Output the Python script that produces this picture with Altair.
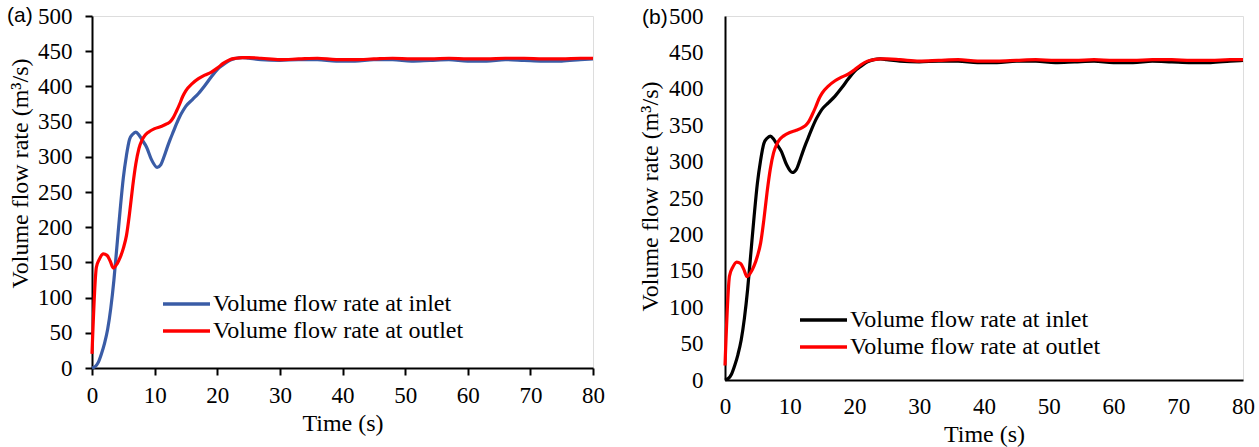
import altair as alt
import pandas as pd

# ---- data ----
t_inlet = [0, 0.5, 1, 1.5, 2, 2.5, 3, 3.5, 4, 4.5, 5, 5.5, 6, 6.5, 7, 7.5, 8, 8.7, 9.5, 10.4,
           11, 11.5, 12, 12.5, 13, 13.5, 14, 14.5, 15, 16, 17, 18, 19, 20, 21, 22, 23, 24, 25,
           27, 30, 33, 36, 39, 42, 45, 48, 51, 54, 57, 60, 63, 66, 69, 72, 75, 78, 80]
v_inlet = [0, 2, 8, 20, 35, 55, 85, 125, 175, 225, 270, 302, 325, 332, 335, 331, 324, 314, 296, 285,
           289, 300, 313, 325, 336, 347, 357, 365, 372, 381, 390, 401, 413, 424, 431, 437, 440, 441, 440,
           438, 437, 438, 438, 436, 436, 438, 438, 436, 437, 438, 436, 436, 438, 437, 436, 436, 438, 439]

t_outlet = [0, 0.7, 1.2, 1.8, 2.4, 2.9, 3.4, 4, 4.5, 5, 5.5, 6, 6.5, 7, 7.5, 8, 8.5, 9, 10,
            11, 12, 12.5, 13, 13.5, 14, 14.5, 15, 16, 17, 18, 19, 20, 21, 22, 23, 24, 25,
            27, 30, 33, 36, 39, 42, 45, 48, 51, 54, 57, 60, 63, 66, 69, 72, 75, 78, 80]
v_outlet = [20, 143, 155, 162, 160, 152, 142, 148, 157, 170, 188, 220, 258, 290, 312, 324, 331, 335, 340,
            343, 347, 350, 356, 365, 375, 386, 394, 404, 411, 416, 420, 426, 433, 438, 440, 441, 441,
            440, 438, 439, 440, 438, 438, 439, 440, 439, 439, 440, 439, 439, 440, 440, 439, 439, 440, 440]

series_names = ["Volume flow rate at inlet", "Volume flow rate at outlet"]
x_ticks = [0, 10, 20, 30, 40, 50, 60, 70, 80]
y_ticks = [0, 50, 100, 150, 200, 250, 300, 350, 400, 450, 500]

df_in = pd.DataFrame({"t": t_inlet, "v": v_inlet})
df_out = pd.DataFrame({"t": t_outlet, "v": v_outlet})

FONT = "Liberation Serif"
FS = 23   # tick labels
TFS = 24  # titles and legend


def panel(tag, inlet_color, w, h, ticks, tick_size, lab_pad_x, lab_pad_y, title_pad_x, title_pad_y,
          leg_x, leg_y, tag_x, tag_y, y_title_y):
    xax = alt.Axis(values=x_ticks, grid=False, ticks=ticks, tickSize=tick_size, tickWidth=2,
                   tickColor="black", domainColor="black", domainWidth=2,
                   labelFont=FONT, labelFontSize=FS, labelColor="black", labelPadding=lab_pad_x,
                   labelFlush=False, labelOverlap=False,
                   title="Time (s)", titleFont=FONT, titleFontSize=TFS, titleFontWeight="normal",
                   titleColor="black", titlePadding=title_pad_x)
    yax = alt.Axis(values=y_ticks, tickCount=11, grid=False, ticks=ticks, tickSize=tick_size, tickWidth=2,
                   tickColor="black", domainColor="black", domainWidth=2,
                   labelFont=FONT, labelFontSize=FS, labelColor="black", labelPadding=lab_pad_y,
                   labelFlush=False, labelOverlap=False,
                   title="Volume flow rate (m³/s)", titleFont=FONT, titleFontSize=TFS,
                   titleFontWeight="normal", titleColor="black", titlePadding=title_pad_y,
                   titleY=y_title_y, titleAlign="center")
    xs = alt.Scale(domain=[0, 80], nice=False)
    ys = alt.Scale(domain=[0, 500], nice=False)

    l_in = alt.Chart(df_in).mark_line(color=inlet_color, strokeWidth=3.2, interpolate="monotone").encode(
        x=alt.X("t:Q", scale=xs, axis=xax), y=alt.Y("v:Q", scale=ys, axis=yax))
    l_out = alt.Chart(df_out).mark_line(color="#ff0000", strokeWidth=3.2, interpolate="monotone").encode(
        x=alt.X("t:Q", scale=xs, axis=xax), y=alt.Y("v:Q", scale=ys, axis=yax))

    layers = [l_in, l_out]
    for i, (name, col) in enumerate(zip(series_names, [inlet_color, "#ff0000"])):
        d = pd.DataFrame({"label": [name]})
        yy = leg_y + i * 27
        layers.append(alt.Chart(d).mark_rule(color=col, strokeWidth=3.5).encode(
            x=alt.value(leg_x), x2=alt.value(leg_x + 47), y=alt.value(yy)))
        layers.append(alt.Chart(d).mark_text(align="left", baseline="middle", font=FONT,
                                             fontSize=TFS, color="black").encode(
            x=alt.value(leg_x + 50), y=alt.value(yy), text="label:N"))
    layers.append(alt.Chart(pd.DataFrame({"tag": [tag]})).mark_text(
        align="left", baseline="middle", font="Liberation Sans", fontSize=21, color="black").encode(
        x=alt.value(tag_x), y=alt.value(tag_y), text="tag:N"))
    return alt.layer(*layers).properties(width=w, height=h)


pa = panel("(a)", "#3a5ca6", 501, 352, True, 7, 9, 13, 4, 5, 71, 288, -85, 0, 157)
pb = panel("(b)", "#000000", 518, 364, False, 0, 15, 22, 4, 6, 75, 304, -83, 2, 180)

chart = alt.hconcat(pa, pb, spacing=132, bounds="flush").properties(
    autosize=alt.AutoSizeParams(type="none"),
    padding={"left": 92, "top": 16, "right": 1167, "bottom": 431},
).configure_view(stroke="black", strokeWidth=2).configure(background="white")

chart.save("out.html", embed_options={"renderer": "svg", "actions": False})
